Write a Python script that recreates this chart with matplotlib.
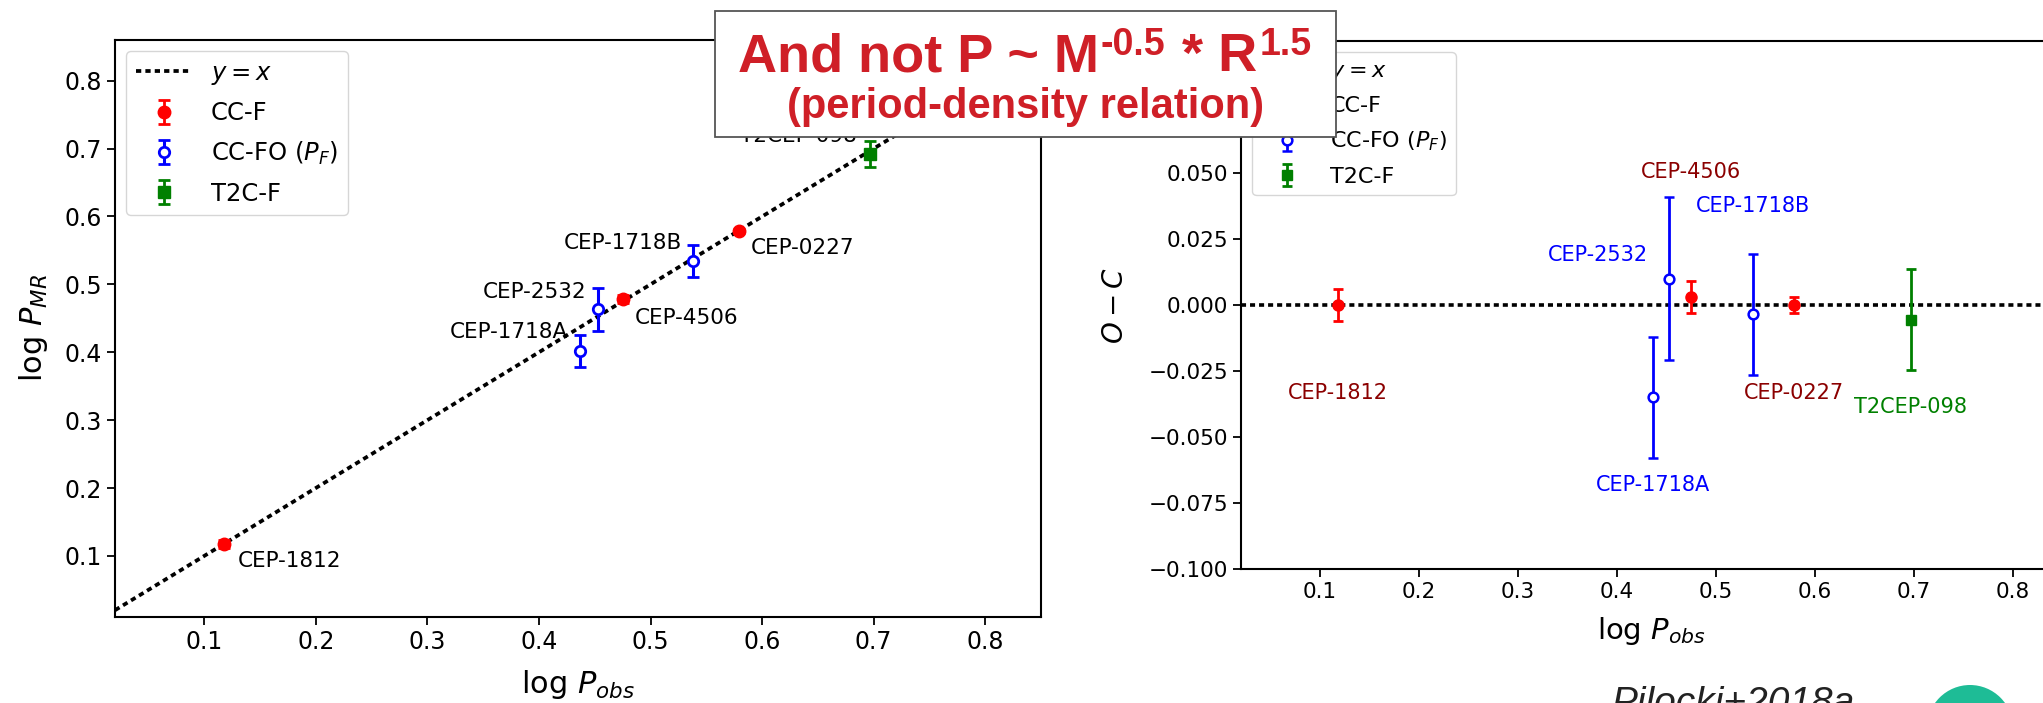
import numpy as np
import matplotlib.pyplot as plt
from matplotlib.patches import Rectangle, Circle

W, H = 2043, 703

# fundamental-mode classical Cepheids (CC-F)
names_f = ['CEP-1812', 'CEP-4506', 'CEP-0227']
logp_obs_f = np.array([0.118, 0.475, 0.579])
logp_mr_f = np.array([0.118, 0.478, 0.579])
err_f = np.array([0.006, 0.006, 0.003])

# first-overtone classical Cepheids, fundamental period (CC-FO)
names_fo = ['CEP-1718A', 'CEP-2532', 'CEP-1718B']
logp_obs_fo = np.array([0.437, 0.453, 0.538])
logp_mr_fo = np.array([0.402, 0.463, 0.5345])
err_fo = np.array([0.023, 0.031, 0.023])

# type II Cepheid (T2C-F)
names_t2 = ['T2CEP-098']
logp_obs_t2 = np.array([0.697])
logp_mr_t2 = np.array([0.6915])
err_t2 = np.array([0.019])

# O - C residuals
oc_f = logp_mr_f - logp_obs_f
oc_fo = logp_mr_fo - logp_obs_fo
oc_t2 = logp_mr_t2 - logp_obs_t2

red_txt = '#cf1f27'
dots = (0, (1.4, 1.1))

fig = plt.figure(figsize=(W / 100, H / 100), dpi=100)
ax1 = fig.add_axes([115 / W, (H - 617) / H, 926 / W, 577 / H])
ax2 = fig.add_axes([1241 / W, (H - 569) / H, 821 / W, 528 / H])

# ---------- left panel: log P_MR vs log P_obs
xx = np.array([0.02, 0.85])
l1, = ax1.plot(xx, xx, color='black', ls=dots, lw=2.7, label='$y = x$')
e1 = ax1.errorbar(logp_obs_f, logp_mr_f, yerr=err_f, fmt='o', color='red', ms=9,
                  elinewidth=2, capsize=4, capthick=2, label='CC-F')
e2 = ax1.errorbar(logp_obs_fo, logp_mr_fo, yerr=err_fo, fmt='o', color='blue', mfc='white',
                  mec='blue', mew=2, ms=7.5, elinewidth=2.2, capsize=4, capthick=2.2,
                  label='CC-FO ($P_F$)')
e3 = ax1.errorbar(logp_obs_t2, logp_mr_t2, yerr=err_t2, fmt='s', color='green', ms=8,
                  elinewidth=2, capsize=4, capthick=2, label='T2C-F')

off_left = {'CEP-1812': (13, -17, 'left'), 'CEP-4506': (12, -19, 'left'),
            'CEP-0227': (12, -17, 'left'), 'CEP-1718B': (-11, 18, 'right'),
            'CEP-2532': (-12, 17, 'right'), 'CEP-1718A': (-12, 19, 'right'),
            'T2CEP-098': (-13, 18, 'right')}
for names, xs, ys in [(names_f, logp_obs_f, logp_mr_f), (names_fo, logp_obs_fo, logp_mr_fo),
                      (names_t2, logp_obs_t2, logp_mr_t2)]:
    for n, x, y in zip(names, xs, ys):
        dx, dy, ha = off_left[n]
        ax1.annotate(n, (x, y), xytext=(dx, dy), textcoords='offset pixels',
                     ha=ha, va='center', fontsize=15.5, color='black')

ax1.set_xlim(0.02, 0.85)
ax1.set_ylim(0.01, 0.86)
ax1.set_xlabel('log $P_{obs}$', fontsize=22, labelpad=10)
ax1.set_ylabel('log $P_{MR}$', fontsize=22, labelpad=10)
ax1.tick_params(labelsize=17, length=6, width=1.3)
for s in ax1.spines.values():
    s.set_linewidth(1.5)
ax1.legend(handles=[l1, e1, e2, e3], loc='upper left', fontsize=17.5, handlelength=2.3,
           labelspacing=0.6, borderaxespad=0.45)

# ---------- right panel: O - C vs log P_obs
l2, = ax2.plot(xx, [0, 0], color='black', ls=dots, lw=2.6, label='$y = x$')
f1 = ax2.errorbar(logp_obs_f, oc_f, yerr=err_f, fmt='o', color='red', ms=8,
                  elinewidth=2, capsize=3.5, capthick=2, label='CC-F')
f2 = ax2.errorbar(logp_obs_fo, oc_fo, yerr=err_fo, fmt='o', color='blue', mfc='white',
                  mec='blue', mew=1.8, ms=7, elinewidth=2, capsize=3.5, capthick=2,
                  label='CC-FO ($P_F$)')
f3 = ax2.errorbar(logp_obs_t2, oc_t2, yerr=err_t2, fmt='s', color='green', ms=7.5,
                  elinewidth=2, capsize=3.5, capthick=2, label='T2C-F')

off_right = {'CEP-1812': (0, -88), 'CEP-4506': (0, 125), 'CEP-0227': (0, -88),
             'CEP-1718B': (0, 108), 'CEP-2532': (-71, 24), 'CEP-1718A': (0, -88),
             'T2CEP-098': (0, -87)}
for names, xs, ys, c in [(names_f, logp_obs_f, oc_f, 'darkred'),
                         (names_fo, logp_obs_fo, oc_fo, 'blue'),
                         (names_t2, logp_obs_t2, oc_t2, 'green')]:
    for n, x, y in zip(names, xs, ys):
        dx, dy = off_right[n]
        ax2.annotate(n, (x, y), xytext=(dx, dy), textcoords='offset pixels',
                     ha='center', va='center', fontsize=15, color=c)

ax2.set_xlim(0.02, 0.85)
ax2.set_ylim(-0.1, 0.1)
ax2.set_yticks(np.arange(-0.1, 0.101, 0.025))
ax2.set_xlabel('log $P_{obs}$', fontsize=21, labelpad=10)
ax2.set_ylabel('$O - C$', fontsize=20, labelpad=14)
ax2.tick_params(labelsize=15.5, length=5.5, width=1.3)
for s in ax2.spines.values():
    s.set_linewidth(1.5)
ax2.legend(handles=[l2, f1, f2, f3], loc='upper left', fontsize=16, handlelength=2.3,
           labelspacing=0.6)

# ---------- overlaid note box
fig.add_artist(Rectangle((715 / W, 1 - 137 / H), 621 / W, 126 / H, transform=fig.transFigure,
                         facecolor='white', edgecolor='#555555', lw=1.3, zorder=5))

renderer = fig.canvas.get_renderer()


def draw_pieces(pieces, xc, ybase):
    objs = []
    total = 0
    for s, size, rise, gap in pieces:
        t = fig.text(0, 0, s, fontsize=size, fontweight='bold', family='Liberation Sans',
                     color=red_txt, ha='left', va='baseline', zorder=6)
        w = t.get_window_extent(renderer).width
        objs.append((t, w, rise, gap))
        total += w + gap
    x = xc - total / 2
    for t, w, rise, gap in objs:
        x += gap
        t.set_position((x / W, 1 - (ybase - rise) / H))
        x += w


draw_pieces([('And not P ~ M', 39, 0, 0), ('-0.5', 27, 16, 2),
             ('* R', 39, 0, 16), ('1.5', 27, 16, 3)], 1025, 71)
fig.text(1026 / W, 1 - 118 / H, '(period-density relation)', fontsize=30, fontweight='bold',
         family='Liberation Sans', color=red_txt, ha='center', va='baseline', zorder=6)

# reference and logo at the bottom edge
fig.text(1612 / W, 1 - 714 / H, 'Pilocki+2018a', fontsize=28, style='italic',
         family='Liberation Sans', color='#222222', ha='left', va='baseline')
fig.add_artist(Circle((19.70, -0.25), 0.43, transform=fig.dpi_scale_trans,
                      facecolor='#1ebc96', edgecolor='none'))

fig.savefig('out.png', dpi=100)
